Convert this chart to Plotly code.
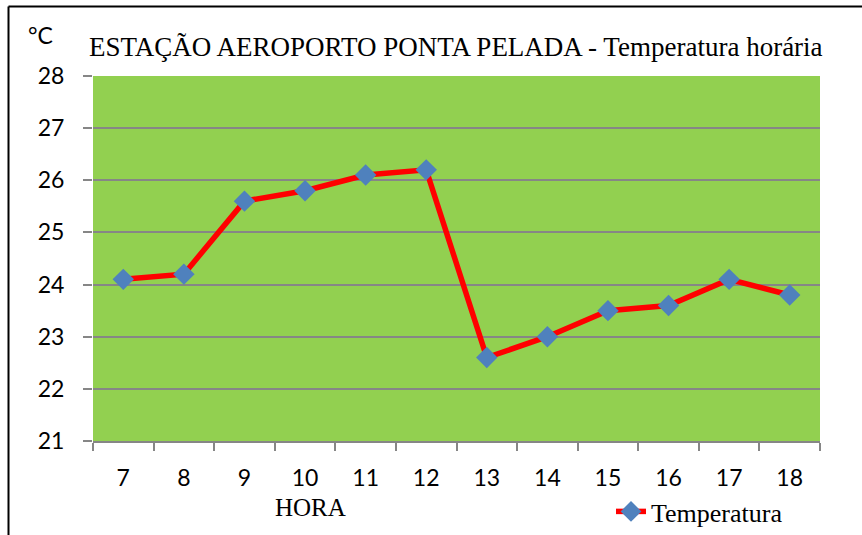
import plotly.graph_objects as go

horas = ["7", "8", "9", "10", "11", "12", "13", "14", "15", "16", "17", "18"]
temperatura = [24.1, 24.2, 25.6, 25.8, 26.1, 26.2, 22.6, 23.0, 23.5, 23.6, 24.1, 23.8]
y_ticks = [21, 22, 23, 24, 25, 26, 27, 28]

W, H = 862, 535
ML, MR, MT, MB = 93, 42, 76, 0
PL, PR, PT, PB = 93, 820, 76, 441   # plot area in pixels
paper_w = W - ML - MR
paper_h = H - MT - MB

def px(x):
    return (x - ML) / paper_w

def py(y):
    return (H - MB - y) / paper_h

fig = go.Figure()
fig.add_trace(go.Scatter(
    x=horas, y=temperatura, mode="lines+markers", name="Temperatura",
    line=dict(color="#ff0000", width=5.5),
    marker=dict(symbol="diamond", size=16.5, color="#4f81bd", line=dict(width=0)),
))

fig.update_layout(
    width=W, height=H,
    margin=dict(l=ML, r=MR, t=MT, b=MB, pad=0, autoexpand=False),
    paper_bgcolor="white",
    plot_bgcolor="#92d050",
    showlegend=True,
    legend=dict(x=px(611), y=0, xanchor="left", yanchor="bottom",
                font=dict(family="Liberation Serif", size=26, color="black"),
                bgcolor="rgba(0,0,0,0)"),
    xaxis=dict(type="category", range=[-0.5, 11.5], showgrid=False,
               showline=True, linecolor="#868686", linewidth=2,
               ticks="outside", tickson="boundaries", ticklen=8,
               tickcolor="#868686", tickwidth=2,
               tickfont=dict(family="Lato", size=23, color="black"),
               ticklabelstandoff=15),
    yaxis=dict(range=[21, 28], tickvals=y_ticks, showgrid=True,
               domain=[py(PB), 1],
               gridcolor="#868686", gridwidth=2, zeroline=False,
               showline=False, ticks="outside", ticklen=9,
               tickcolor="#868686", tickwidth=2,
               tickfont=dict(family="Lato", size=23, color="black"),
               ticklabelstandoff=14),
    annotations=[
        dict(text="ESTAÇÃO AEROPORTO PONTA PELADA - Temperatura horária",
             xref="paper", yref="paper", x=px(456), y=py(47),
             xanchor="center", yanchor="middle", showarrow=False,
             font=dict(family="Liberation Serif", size=27, color="black")),
        dict(text="°C", xref="paper", yref="paper", x=px(40), y=py(35),
             xanchor="center", yanchor="middle", showarrow=False,
             font=dict(family="Lato", size=23, color="black")),
        dict(text="HORA", xref="paper", yref="paper", x=px(310), y=py(507),
             xanchor="center", yanchor="middle", showarrow=False,
             font=dict(family="Liberation Serif", size=25, color="black")),
    ],
    shapes=[
        dict(type="line", xref="paper", yref="paper",
             x0=px(8.5), x1=px(875), y0=py(6.5), y1=py(6.5),
             line=dict(color="black", width=2)),
        dict(type="line", xref="paper", yref="paper",
             x0=px(8.5), x1=px(8.5), y0=py(6.5), y1=py(545),
             line=dict(color="black", width=2)),
    ],
)

fig.write_html("out.html", config={"displayModeBar": False},
               post_script="document.body.style.margin='0';document.body.style.overflow='hidden';")
